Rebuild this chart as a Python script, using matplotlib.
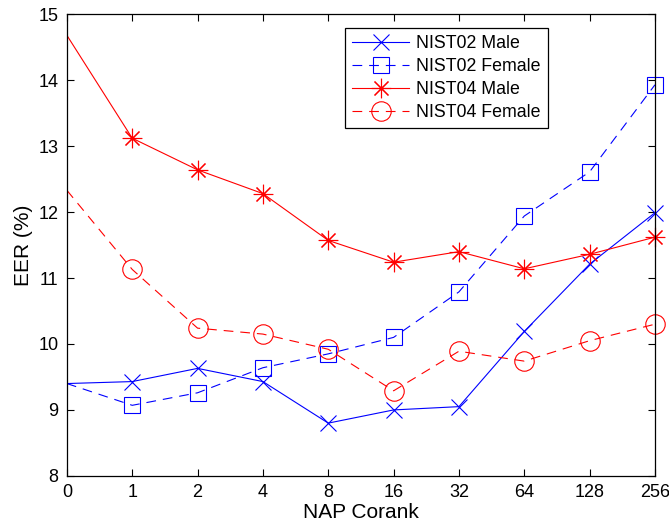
import matplotlib
matplotlib.use("Agg")
import matplotlib.pyplot as plt
import numpy as np

plt.rcParams['font.family'] = ['Liberation Sans', 'DejaVu Sans']
plt.rcParams['lines.scale_dashes'] = False

coranks = ["0", "1", "2", "4", "8", "16", "32", "64", "128", "256"]
nist02_male = [9.40, 9.43, 9.63, 9.43, 8.80, 9.00, 9.05, 10.19, 11.21, 11.99]
nist02_female = [9.40, 9.07, 9.26, 9.64, 9.85, 10.10, 10.79, 11.94, 12.61, 13.93]
nist04_male = [14.68, 13.12, 12.64, 12.28, 11.57, 11.24, 11.40, 11.14, 11.36, 11.62]
nist04_female = [12.33, 11.13, 10.24, 10.15, 9.92, 9.29, 9.89, 9.74, 10.05, 10.30]

x = np.arange(len(coranks))
asterisk = (8, 2, 0)
dash = (0, (7, 5))

fig = plt.figure(figsize=(6.69, 5.27), dpi=100)
ax = fig.add_axes([0.100, 0.097, 0.879, 0.876])

series = [
    (nist02_male, 'blue', '-', 'x', 11, "NIST02 Male"),
    (nist02_female, 'blue', dash, 's', 11, "NIST02 Female"),
    (nist04_male, 'red', '-', asterisk, 14, "NIST04 Male"),
    (nist04_female, 'red', dash, 'o', 14, "NIST04 Female"),
]
handles = []
for vals, col, ls, mk, ms, lab in series:
    ax.plot(x, vals, color=col, linestyle=ls, linewidth=0.8)
    # markers are not drawn at corank 0 in the original
    ax.plot(x[1:], vals[1:], color=col, linestyle='none', marker=mk,
            markersize=ms, markerfacecolor='none', markeredgecolor=col,
            markeredgewidth=0.8, clip_on=False)
    h, = ax.plot([], [], color=col, linestyle=ls, linewidth=0.8, marker=mk,
                 markersize=ms, markerfacecolor='none', markeredgecolor=col,
                 markeredgewidth=0.8, label=lab)
    handles.append(h)

ax.set_xlim(0, 9)
ax.set_ylim(8, 15)
ax.set_xticks(x)
ax.set_xticklabels(coranks)
ax.set_yticks(np.arange(8, 16))
ax.tick_params(direction='in', top=True, right=True, length=5, width=0.8,
               labelsize=13, pad=6)
for s in ax.spines.values():
    s.set_linewidth(0.9)

ax.set_xlabel("NAP Corank", fontsize=15, labelpad=1)
ax.set_ylabel("EER (%)", fontsize=15, labelpad=4)

leg = ax.legend(handles=handles, loc='upper left',
                bbox_to_anchor=(0.473, 0.97), fontsize=12.8, frameon=True,
                fancybox=False, edgecolor='black', framealpha=1,
                handlelength=3.2, handletextpad=0.4, borderpad=0.4,
                labelspacing=0.33, borderaxespad=0)
leg.get_frame().set_linewidth(0.9)

fig.savefig("out.png", dpi=100)
